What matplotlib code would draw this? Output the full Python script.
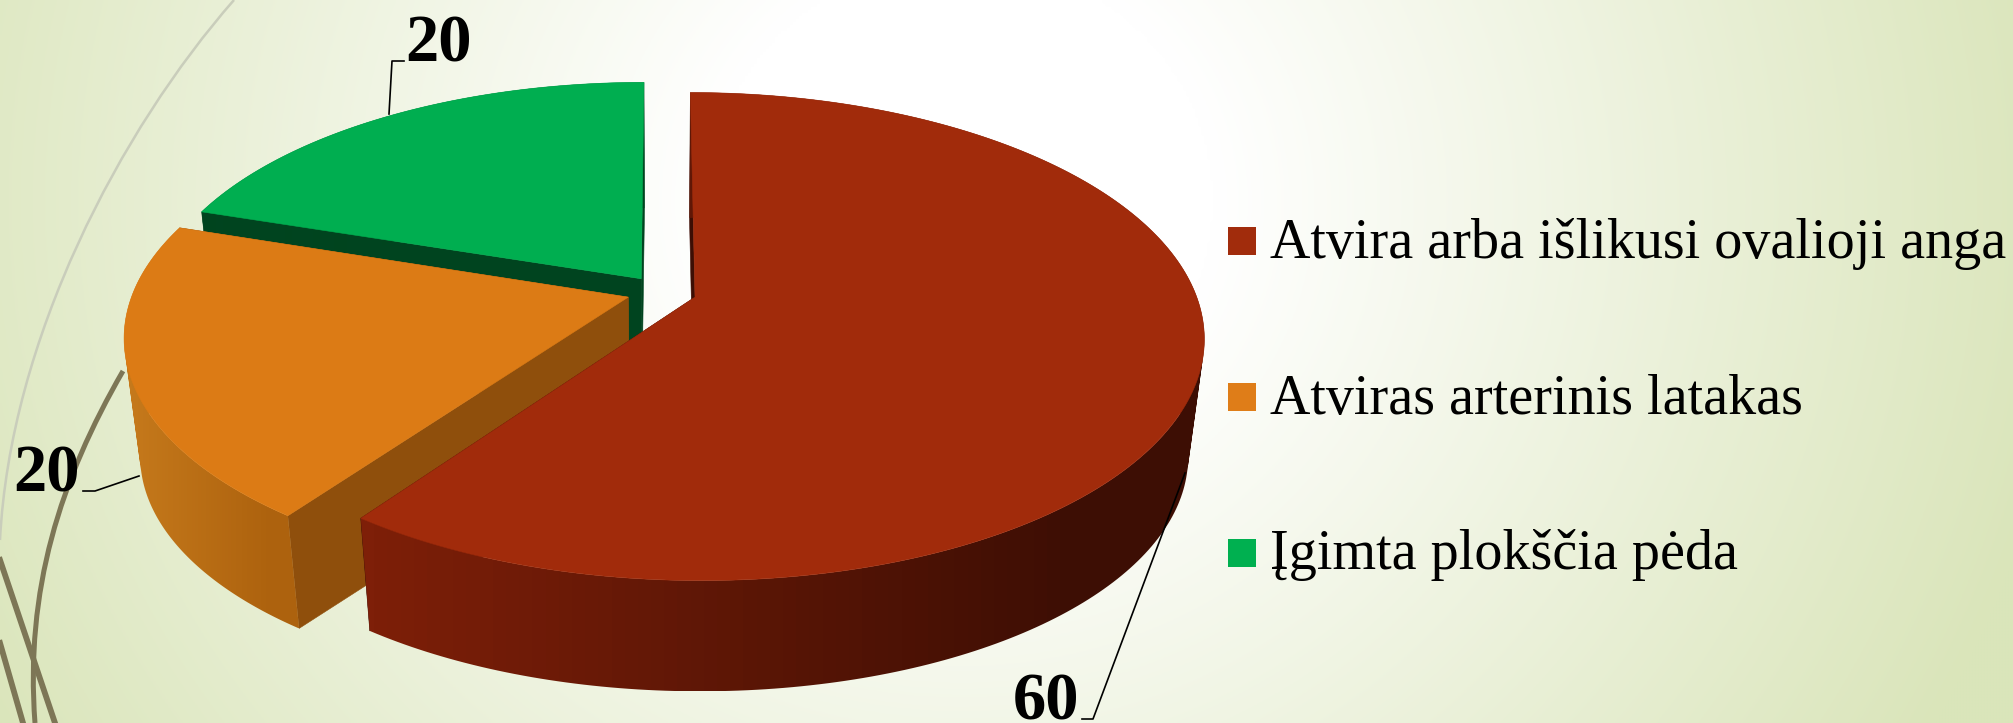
#3D exploded pie chart with legend on a light green background
import matplotlib
matplotlib.use("Agg")
import matplotlib.pyplot as plt
from matplotlib.colors import to_rgb
from matplotlib.path import Path
from matplotlib.patches import PathPatch, Polygon, Rectangle
import numpy as np

#data
labels = ['Atvira arba išlikusi ovalioji anga', 'Atviras arterinis latakas', 'Įgimta plokščia pėda']
values = [60, 20, 20]

#colours
top_colors = ['#A12B0B', '#DC7B15', '#00AE50']
legend_colors = ['#A12C0C', '#DF7D18', '#00B050']
face_colors = ['#3D0E04', '#8F4F0C', '#00441F']
rim_left = ['#7E1F08', '#C67A1C', '#00441F']
rim_right = ['#3D0E04', '#AD620E', '#00441F']

#view settings (pixels), pie plane is projected with some perspective
W, H = 2013, 723
X0, Y0 = 661.6, 292.0
a, b, k = 500.0, 236.0, 0.161
explode = 0.07
radius = [1.0, 0.99, 0.98]
drop_y = 119.4
drop_s = 0.97

plt.rcParams['font.family'] = ['Liberation Serif', 'DejaVu Serif']
fig = plt.figure(figsize=(W/100, H/100), dpi=100)
ax = fig.add_axes([0, 0, 1, 1])
ax.set_xlim(0, W)
ax.set_ylim(H, 0)
ax.axis('off')

#background gradient
yy, xx = np.mgrid[0:H:3, 0:W:3]
d = np.sqrt(((xx-960)/1150.0)**2 + ((yy-200)/1100.0)**2)
t = np.clip((d-0.22)/0.75, 0, 1)[..., None]
bg = (1-t)*np.array([1.0, 1.0, 1.0]) + t*np.array(to_rgb('#DAE5BA'))
ax.imshow(bg, extent=[0, W, H, 0], aspect='auto', zorder=0)

#thin decoration lines on the left
def curve(p, color, lw):
    codes = [Path.MOVETO, Path.CURVE4, Path.CURVE4, Path.CURVE4]
    ax.add_patch(PathPatch(Path(p, codes), fc='none', ec=color, lw=lw, zorder=1))

curve([(234, 0), (120, 130), (10, 340), (0, 540)], '#C9CDBB', 1.8)
curve([(123, 371), (60, 480), (25, 590), (35, 723)], '#7D7656', 3.6)
ax.plot([0, 55], [560, 723], color='#7D7656', lw=4.2, zorder=1)
ax.plot([0, 23], [643, 723], color='#7D7656', lw=4.2, zorder=1)

def project(p, q, lower=False):
    w = 1 + k*q
    x = a*p/w
    y = -b*q/w
    if lower:
        return X0 + drop_s*x, Y0 + drop_y + drop_s*y
    return X0 + x, Y0 + y

def quad_path(p1, p2, p3, p4):
    #all quads get the same winding so the compound path fills as a union
    q = np.array([p1, p2, p3, p4, p1])
    area = np.sum(q[:-1, 0]*q[1:, 1] - q[1:, 0]*q[:-1, 1])
    if area < 0:
        q = q[::-1]
    return Path(q, closed=True)

#slices run clockwise from the top, green drawn first then orange then red
total = float(sum(values))
edges = np.cumsum([0] + values)/total*2*np.pi
for i in [2, 1, 0]:
    th0, th1 = edges[i], edges[i+1]
    mid = 0.5*(th0+th1)
    r = radius[i]
    cp, cq = explode*np.sin(mid), explode*np.cos(mid)
    z = 2+3*(2-i)

    #cut faces
    for th in [th0, th1]:
        pts = [project(cp, cq), project(cp+r*np.sin(th), cq+r*np.cos(th)),
               project(cp+r*np.sin(th), cq+r*np.cos(th), True), project(cp, cq, True)]
        ax.add_patch(Polygon(pts, fc=face_colors[i], ec=face_colors[i], lw=0.4, zorder=z))

    #outer rim, gradient image clipped to the rim shape
    ths = np.linspace(th0, th1, 240)
    upper = [project(cp+r*np.sin(v), cq+r*np.cos(v)) for v in ths]
    lower = [project(cp+r*np.sin(v), cq+r*np.cos(v), True) for v in ths]
    quads = [quad_path(upper[j], upper[j+1], lower[j+1], lower[j]) for j in range(len(ths)-1)]
    rim = Path.make_compound_path(*quads)
    x1, x2 = rim.vertices[:, 0].min(), rim.vertices[:, 0].max()
    y1, y2 = rim.vertices[:, 1].min(), rim.vertices[:, 1].max()
    f = np.clip(np.linspace(0, 1, 64)/0.85, 0, 1)[None, :, None]
    grad = (1-f)*np.array(to_rgb(rim_left[i])) + f*np.array(to_rgb(rim_right[i]))
    im = ax.imshow(grad, extent=[x1, x2, y2, y1], aspect='auto', zorder=z+1, interpolation='nearest')
    im.set_clip_path(rim, transform=ax.transData)

    #top surface
    pts = [project(cp, cq)] + upper
    ax.add_patch(Polygon(pts, fc=top_colors[i], ec=top_colors[i], lw=0.4, zorder=z+2))

#data labels with leader lines
leaders = [([1185, 1093, 1082], [473, 719, 719]),
           ([139, 95, 83], [476, 491, 491]),
           ([389, 392, 404], [114, 61, 61])]
label_pos = [(1046, 719), (46, 492), (438, 62)]
for i in range(3):
    ax.plot(leaders[i][0], leaders[i][1], color='black', lw=1.2, zorder=20)
    ax.text(label_pos[i][0], label_pos[i][1], str(values[i]), fontsize=48, fontweight='bold',
            ha='center', va='baseline', color='black', zorder=21)

#legend
legend_y = [241, 397, 552.5]
baselines = [258, 414, 569]
for i in range(3):
    ax.add_patch(Rectangle((1228, legend_y[i]-14), 28, 28, fc=legend_colors[i], ec='none', zorder=20))
    ax.text(1270, baselines[i], labels[i], fontsize=40.4, ha='left', va='baseline', color='black', zorder=21)

fig.savefig('out.png', dpi=100)
